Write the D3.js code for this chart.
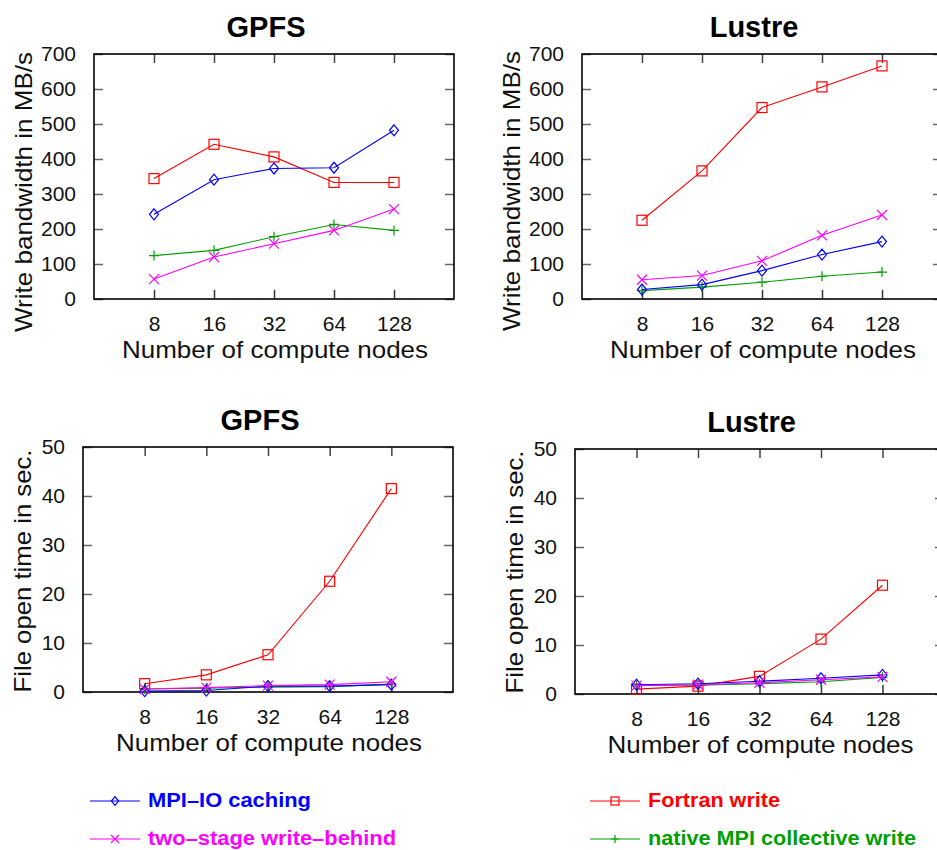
<!DOCTYPE html>
<html>
<head>
<meta charset="utf-8">
<script src="https://cdn.jsdelivr.net/npm/d3@7"></script>
<style>
  html, body { margin: 0; padding: 0; background: #fff; }
  svg { display: block; }
  text { font-family: "Liberation Sans", Arial, Helvetica, sans-serif; }
</style>
</head>
<body>
<svg id="chart" width="937" height="850"></svg>
<script>
// ---------------- DATA ----------------
const nodes = [8, 16, 32, 64, 128];
const nodeLabels = ["8", "16", "32", "64", "128"];

const seriesNames = ["MPI\u2013IO caching", "Fortran write", "two\u2013stage write\u2013behind", "native MPI collective write"];

// Write bandwidth (MB/s)
const gpfsWriteCaching  = [242, 341, 373, 375, 482];
const gpfsWriteFortran  = [344, 442, 406, 333, 333];
const gpfsWriteTwoStage = [57, 120, 158, 196, 257];
const gpfsWriteNative   = [124, 139, 178, 213, 196];

const lustreWriteCaching  = [27, 41, 81, 127, 164];
const lustreWriteFortran  = [225, 366, 547, 606, 666];
const lustreWriteTwoStage = [55, 67, 109, 182, 240];
const lustreWriteNative   = [24, 34, 48, 65, 77];

// File open time (sec)
const gpfsOpenCaching  = [0.2, 0.3, 1.2, 1.2, 1.5];
const gpfsOpenFortran  = [1.7, 3.5, 7.6, 22.6, 41.5];
const gpfsOpenTwoStage = [0.6, 0.9, 1.3, 1.5, 2.1];
const gpfsOpenNative   = [0.6, 0.8, 1.0, 1.1, 1.6];

const lustreOpenCaching  = [1.9, 2.1, 2.6, 3.2, 3.9];
const lustreOpenFortran  = [1.0, 1.6, 3.6, 11.2, 22.2];
const lustreOpenTwoStage = [1.7, 1.9, 2.3, 2.9, 3.5];
const lustreOpenNative   = [1.8, 1.8, 2.1, 2.5, 3.4];

const writeTicks = [0, 100, 200, 300, 400, 500, 600, 700];
const openTicks  = [0, 10, 20, 30, 40, 50];

// ---------------- STYLE / LAYOUT ----------------
const colors = { caching: "#0000ff", fortran: "#ff0000", twoStage: "#ff00ff", native: "#00a000" };
const markers = { caching: "diamond", fortran: "square", twoStage: "cross", native: "plus" };

const panels = [
  { title: "GPFS",   ylabel: "Write bandwidth in MB/s", left: 94,  right: 454, top: 54,  bottom: 299, ymax: 700, ticks: writeTicks, ylabCx: 192, ylabOff: 62,
    data: { caching: gpfsWriteCaching, fortran: gpfsWriteFortran, twoStage: gpfsWriteTwoStage, native: gpfsWriteNative } },
  { title: "Lustre", ylabel: "Write bandwidth in MB/s", left: 582, right: 942, top: 54,  bottom: 299, ymax: 700, ticks: writeTicks, ylabCx: 191, ylabOff: 62,
    data: { caching: lustreWriteCaching, fortran: lustreWriteFortran, twoStage: lustreWriteTwoStage, native: lustreWriteNative } },
  { title: "GPFS",   ylabel: "File open time in sec.",  left: 83,  right: 453, top: 447, bottom: 692, ymax: 50,  ticks: openTicks,  ylabCx: 571, ylabOff: 52,
    data: { caching: gpfsOpenCaching, fortran: gpfsOpenFortran, twoStage: gpfsOpenTwoStage, native: gpfsOpenNative } },
  { title: "Lustre", ylabel: "File open time in sec.",  left: 575, right: 944, top: 449, bottom: 694, ymax: 50,  ticks: openTicks,  ylabCx: 572, ylabOff: 52,
    data: { caching: lustreOpenCaching, fortran: lustreOpenFortran, twoStage: lustreOpenTwoStage, native: lustreOpenNative } }
];

const drawOrder = ["fortran", "native", "caching", "twoStage"];

const svg = d3.select("#chart");

function drawMarker(g, type, x, y, s, color) {
  if (type === "square") {
    g.append("rect").attr("x", x - s / 2).attr("y", y - s / 2).attr("width", s).attr("height", s)
      .attr("fill", "none").attr("stroke", color).attr("stroke-width", 1.2);
  } else if (type === "diamond") {
    const h = s / 2;
    g.append("path").attr("d", `M${x},${y - h * 1.1}L${x + h * 0.9},${y}L${x},${y + h * 1.1}L${x - h * 0.9},${y}Z`)
      .attr("fill", "none").attr("stroke", color).attr("stroke-width", 1.2);
  } else if (type === "cross") {
    const h = s / 2;
    g.append("path").attr("d", `M${x - h},${y - h}L${x + h},${y + h}M${x - h},${y + h}L${x + h},${y - h}`)
      .attr("stroke", color).attr("stroke-width", 1.2);
  } else if (type === "plus") {
    const h = s / 2;
    g.append("path").attr("d", `M${x - h},${y}L${x + h},${y}M${x},${y - h}L${x},${y + h}`)
      .attr("stroke", color).attr("stroke-width", 1.2);
  }
}

panels.forEach(p => {
  const g = svg.append("g");
  const x = d3.scaleLog().base(2).domain([4, 256]).range([p.left, p.right]);
  const y = d3.scaleLinear().domain([0, p.ymax]).range([p.bottom, p.top]);
  const tickLen = 9;

  // Y axis (left) with inward ticks, labels outside
  const yAxis = d3.axisLeft(y).tickValues(p.ticks).tickSize(-tickLen).tickPadding(tickLen + 9).tickFormat(d3.format("d"));
  const ga = g.append("g").attr("transform", `translate(${p.left},0)`).call(yAxis);
  ga.select(".domain").remove();
  ga.selectAll(".tick line").attr("stroke", "#666").attr("stroke-width", 1.5);
  ga.selectAll(".tick text").attr("font-size", 21).attr("fill", "#111").attr("font-family", "Liberation Sans, Arial, sans-serif");

  // Y axis mirror (right)
  const yAxisR = d3.axisRight(y).tickValues(p.ticks).tickSize(-tickLen).tickFormat("");
  const gr = g.append("g").attr("transform", `translate(${p.right},0)`).call(yAxisR);
  gr.select(".domain").remove();
  gr.selectAll(".tick line").attr("stroke", "#666").attr("stroke-width", 1.5);

  // X axis (bottom)
  const xAxis = d3.axisBottom(x).tickValues(nodes).tickSize(-tickLen).tickPadding(tickLen + 8)
    .tickFormat((d, i) => nodeLabels[i]);
  const gx = g.append("g").attr("transform", `translate(0,${p.bottom})`).call(xAxis);
  gx.select(".domain").remove();
  gx.selectAll(".tick line").attr("stroke", "#333").attr("stroke-width", 1.5);
  gx.selectAll(".tick text").attr("font-size", 21).attr("fill", "#111").attr("font-family", "Liberation Sans, Arial, sans-serif");

  // X axis mirror (top)
  const xAxisT = d3.axisTop(x).tickValues(nodes).tickSize(-tickLen).tickFormat("");
  const gt = g.append("g").attr("transform", `translate(0,${p.top})`).call(xAxisT);
  gt.select(".domain").remove();
  gt.selectAll(".tick line").attr("stroke", "#444").attr("stroke-width", 1.5);

  // Frame
  g.append("rect").attr("x", p.left).attr("y", p.top).attr("width", p.right - p.left).attr("height", p.bottom - p.top)
    .attr("fill", "none").attr("stroke", "#000").attr("stroke-width", 1.6);

  // Series
  drawOrder.forEach(key => {
    const vals = p.data[key];
    const line = d3.line().x((d, i) => x(nodes[i])).y(d => y(d));
    g.append("path").attr("d", line(vals)).attr("fill", "none").attr("stroke", colors[key]).attr("stroke-width", 1.1);
    vals.forEach((v, i) => drawMarker(g, markers[key], x(nodes[i]), y(v), 10, colors[key]));
  });

  const titleX = x(32);
  // Title
  g.append("text").attr("x", titleX - 8).attr("y", p.top - 17).attr("text-anchor", "middle")
    .attr("font-size", 29).attr("font-weight", "bold").attr("fill", "#000").text(p.title);

  // X label
  g.append("text").attr("x", titleX + 1).attr("y", p.bottom + 59).attr("text-anchor", "middle")
    .attr("font-size", 24).attr("fill", "#111").attr("textLength", 306).attr("lengthAdjust", "spacingAndGlyphs")
    .text("Number of compute nodes");

  // Y label
  const ylx = p.left - p.ylabOff;
  const ylLen = p.ymax === 700 ? 280 : 243;
  g.append("text").attr("transform", `translate(${ylx},${p.ylabCx}) rotate(-90)`).attr("text-anchor", "middle")
    .attr("font-size", 24).attr("fill", "#111").attr("textLength", ylLen).attr("lengthAdjust", "spacingAndGlyphs")
    .text(p.ylabel);
});

// ---------------- LEGEND ----------------
const legendItems = [
  { key: "caching",  name: seriesNames[0], lx: 90,  ly: 801, tlen: 163 },
  { key: "fortran",  name: seriesNames[1], lx: 590, ly: 801, tlen: 132 },
  { key: "twoStage", name: seriesNames[2], lx: 90,  ly: 839, tlen: 248 },
  { key: "native",   name: seriesNames[3], lx: 590, ly: 839, tlen: 268 }
];
const leg = svg.append("g");
legendItems.forEach(it => {
  leg.append("line").attr("x1", it.lx).attr("x2", it.lx + 50).attr("y1", it.ly).attr("y2", it.ly)
    .attr("stroke", colors[it.key]).attr("stroke-width", 1.1);
  drawMarker(leg, markers[it.key], it.lx + 25, it.ly, 8, colors[it.key]);
  leg.append("text").attr("x", it.lx + 58).attr("y", it.ly + 6).attr("font-size", 20).attr("font-weight", "bold")
    .attr("fill", colors[it.key]).attr("textLength", it.tlen).attr("lengthAdjust", "spacingAndGlyphs").text(it.name);
});
</script>
</body>
</html>
